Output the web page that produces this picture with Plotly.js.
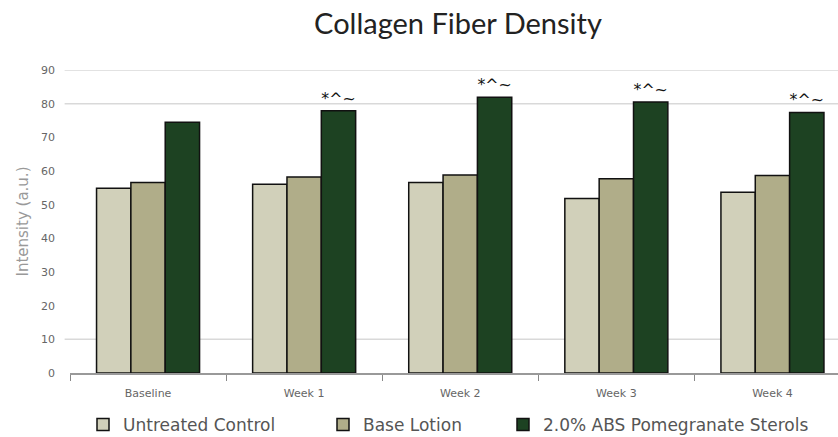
<!DOCTYPE html>
<html>
<head>
<meta charset="utf-8">
<script src="https://cdn.plot.ly/plotly-3.0.1.min.js"></script>
<style>html,body{margin:0;padding:0;background:#fff;}#chart{width:838px;height:437px;}</style>
</head>
<body>
<div id="chart"></div>
<script>
const categories = ["Baseline", "Week 1", "Week 2", "Week 3", "Week 4"];
const untreatedControl = [54.9, 56.1, 56.6, 51.8, 53.7];
const baseLotion = [56.6, 58.2, 58.8, 57.7, 58.7];
const pomegranateSterols = [74.5, 77.9, 81.9, 80.5, 77.4];
const significance = ["", "*^~", "*^~", "*^~", "*^~"];
const seriesNames = ["Untreated Control", "Base Lotion", "2.0% ABS Pomegranate Sterols"];
const gridValues = [10, 80, 90];

const colors = ["#d1d0ba", "#b0ad89", "#1d4222"];
const legendX = [83 / 838, 323 / 838, 503 / 838];

const seriesData = [untreatedControl, baseLotion, pomegranateSterols];
const traces = seriesData.map((vals, i) => ({
  type: "bar",
  name: seriesNames[i],
  x: categories,
  y: vals,
  marker: { color: colors[i], line: { color: "#111", width: 1.5 } },
  legend: i === 0 ? "legend" : "legend" + (i + 1),
  text: i === 2 ? significance : undefined,
  textposition: i === 2 ? "outside" : undefined,
  textfont: { family: "DejaVu Sans", size: 16, color: "#111" },
  cliponaxis: false,
  hoverinfo: "x+y+name"
}));

const legendBase = {
  orientation: "h",
  xref: "container",
  yref: "container",
  y: 1 - 425 / 437,
  yanchor: "middle",
  xanchor: "left",
  font: { family: "DejaVu Sans", size: 17, color: "#555" },
  bgcolor: "rgba(0,0,0,0)",
  itemwidth: 30
};

const layout = {
  width: 838,
  height: 437,
  margin: { l: 70, r: 0, t: 70, b: 64 },
  paper_bgcolor: "#fff",
  plot_bgcolor: "#fff",
  title: {
    text: "Collagen Fiber Density",
    font: { family: "Lato", size: 29, color: "#222" },
    x: 458 / 838, xref: "container", xanchor: "center",
    y: 1 - 24 / 437, yref: "container", yanchor: "middle"
  },
  barmode: "group",
  bargap: 0.34,
  bargroupgap: 0,
  showlegend: true,
  legend: Object.assign({}, legendBase, { x: legendX[0] }),
  legend2: Object.assign({}, legendBase, { x: legendX[1] }),
  legend3: Object.assign({}, legendBase, { x: legendX[2] }),
  xaxis: {
    type: "category",
    range: [-0.5, 4.42],
    showgrid: false,
    showline: true,
    linecolor: "#999",
    linewidth: 2,
    ticks: "outside",
    tickson: "boundaries",
    ticklen: 6,
    tickcolor: "#888",
    tickfont: { family: "DejaVu Sans", size: 11, color: "#666" },
    ticklabelstandoff: 9
  },
  yaxis: {
    range: [0, 90],
    dtick: 10,
    showgrid: false,
    zeroline: false,
    showline: false,
    ticks: "",
    tickfont: { family: "DejaVu Sans", size: 11, color: "#666" },
    ticklabelstandoff: 14,
    title: {
      text: "Intensity (a.u.)",
      font: { family: "DejaVu Sans", size: 15, color: "#999" },
      standoff: 8
    }
  },
  shapes: gridValues.map(v => ({
    type: "line", xref: "paper", yref: "y",
    x0: -0.007, x1: 1, y0: v, y1: v,
    line: { color: "#d9d9d9", width: 1.5 },
    layer: "below"
  }))
};

Plotly.newPlot("chart", traces, layout, { displayModeBar: false, staticPlot: false });
</script>
</body>
</html>
